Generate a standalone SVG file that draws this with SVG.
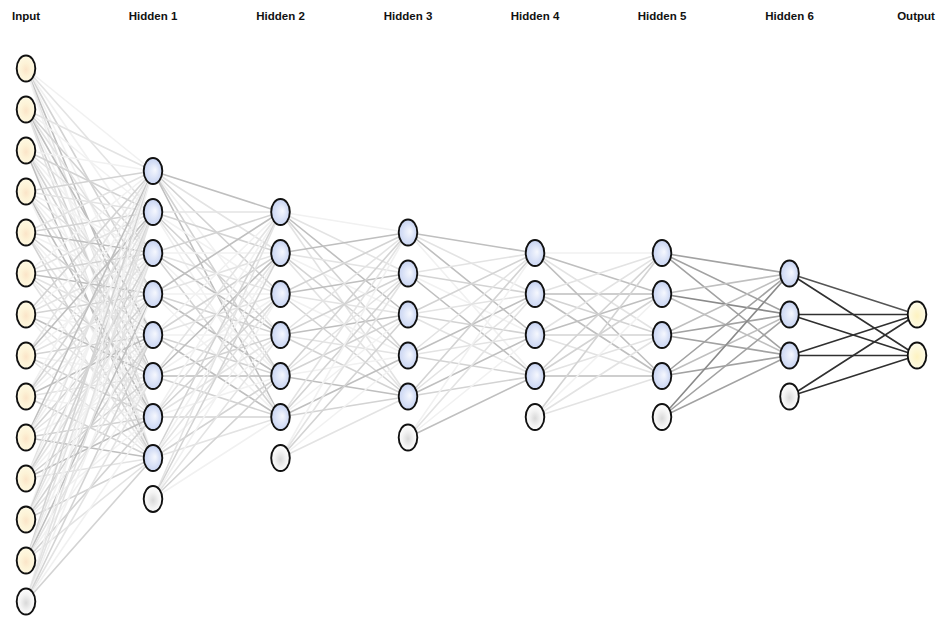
<svg xmlns="http://www.w3.org/2000/svg" width="937" height="619" viewBox="0 0 937 619">
  <style>
    .lbl { font-family: "Liberation Sans", Arial, sans-serif; font-weight: bold; font-size: 11.5px; fill: #111; text-anchor: middle; }
    #edges path { fill: none; stroke-width: 1.6; stroke-linecap: round; }
    .e0 { stroke: #f1f1f1; }
    .e1 { stroke: #e3e3e3; }
    .e2 { stroke: #d3d3d3; }
    .e3 { stroke: #bfbfbf; }
    .e4 { stroke: #a2a2a2; }
    .e5 { stroke: #8a8a8a; }
    .e6 { stroke: #555555; }
    .e7 { stroke: #303030; }
    .node ellipse { stroke: #111; stroke-width: 1.9; }
    .in ellipse { fill: url(#gIn); }
    .hid ellipse { fill: url(#gHid); }
    .bias ellipse { fill: url(#gBias); }
    .out ellipse { fill: url(#gOut); }
  </style>
  <defs>
    <radialGradient id="gIn" cx="0.5" cy="0.55" r="0.55">
      <stop offset="0" stop-color="#fbe4c8"/>
      <stop offset="0.45" stop-color="#fdf2d6"/>
      <stop offset="1" stop-color="#fefae4"/>
    </radialGradient>
    <radialGradient id="gHid" cx="0.45" cy="0.55" r="0.6" fx="0.62" fy="0.45">
      <stop offset="0" stop-color="#f6f8fe"/>
      <stop offset="0.55" stop-color="#d6dff6"/>
      <stop offset="1" stop-color="#c2cff0"/>
    </radialGradient>
    <radialGradient id="gBias" cx="0.5" cy="0.55" r="0.55">
      <stop offset="0" stop-color="#d9d9d9"/>
      <stop offset="0.55" stop-color="#f3f3f3"/>
      <stop offset="1" stop-color="#ffffff"/>
    </radialGradient>
    <radialGradient id="gOut" cx="0.5" cy="0.55" r="0.55">
      <stop offset="0" stop-color="#fdf2c0"/>
      <stop offset="0.6" stop-color="#fdf8da"/>
      <stop offset="1" stop-color="#fefcec"/>
    </radialGradient>
  </defs>

  <rect width="937" height="619" fill="#ffffff"/>

  <!-- layer titles -->
  <g id="titles">
    <text class="lbl" x="26" y="20">Input</text>
    <text class="lbl" x="153" y="20">Hidden 1</text>
    <text class="lbl" x="280.5" y="20">Hidden 2</text>
    <text class="lbl" x="408" y="20">Hidden 3</text>
    <text class="lbl" x="535" y="20">Hidden 4</text>
    <text class="lbl" x="662" y="20">Hidden 5</text>
    <text class="lbl" x="789.5" y="20">Hidden 6</text>
    <text class="lbl" x="916" y="20">Output</text>
  </g>

  <!-- weighted connections, shade = weight magnitude -->
  <g id="edges">
    <!-- Input -> Hidden 1 -->
    <path class="e0" d="M26 68.5 153 171"/><path class="e1" d="M26 68.5 153 212"/><path class="e0" d="M26 68.5 153 253"/><path class="e2" d="M26 68.5 153 294"/><path class="e0" d="M26 68.5 153 335"/><path class="e3" d="M26 68.5 153 376"/><path class="e1" d="M26 68.5 153 417"/><path class="e0" d="M26 68.5 153 458"/>
    <path class="e1" d="M26 109.5 153 171"/><path class="e0" d="M26 109.5 153 212"/><path class="e2" d="M26 109.5 153 253"/><path class="e1" d="M26 109.5 153 294"/><path class="e3" d="M26 109.5 153 335"/><path class="e0" d="M26 109.5 153 376"/><path class="e2" d="M26 109.5 153 417"/><path class="e1" d="M26 109.5 153 458"/>
    <path class="e0" d="M26 150.5 153 171"/><path class="e2" d="M26 150.5 153 212"/><path class="e1" d="M26 150.5 153 253"/><path class="e0" d="M26 150.5 153 294"/><path class="e1" d="M26 150.5 153 335"/><path class="e2" d="M26 150.5 153 376"/><path class="e0" d="M26 150.5 153 417"/><path class="e3" d="M26 150.5 153 458"/>
    <path class="e2" d="M26 191.5 153 171"/><path class="e1" d="M26 191.5 153 212"/><path class="e0" d="M26 191.5 153 253"/><path class="e1" d="M26 191.5 153 294"/><path class="e0" d="M26 191.5 153 335"/><path class="e1" d="M26 191.5 153 376"/><path class="e3" d="M26 191.5 153 417"/><path class="e0" d="M26 191.5 153 458"/>
    <path class="e1" d="M26 232.5 153 171"/><path class="e2" d="M26 232.5 153 212"/><path class="e3" d="M26 232.5 153 253"/><path class="e0" d="M26 232.5 153 294"/><path class="e2" d="M26 232.5 153 335"/><path class="e0" d="M26 232.5 153 376"/><path class="e1" d="M26 232.5 153 417"/><path class="e2" d="M26 232.5 153 458"/>
    <path class="e0" d="M26 273.5 153 171"/><path class="e1" d="M26 273.5 153 212"/><path class="e2" d="M26 273.5 153 253"/><path class="e3" d="M26 273.5 153 294"/><path class="e1" d="M26 273.5 153 335"/><path class="e2" d="M26 273.5 153 376"/><path class="e0" d="M26 273.5 153 417"/><path class="e1" d="M26 273.5 153 458"/>
    <path class="e2" d="M26 314.5 153 171"/><path class="e0" d="M26 314.5 153 212"/><path class="e1" d="M26 314.5 153 253"/><path class="e2" d="M26 314.5 153 294"/><path class="e0" d="M26 314.5 153 335"/><path class="e3" d="M26 314.5 153 376"/><path class="e1" d="M26 314.5 153 417"/><path class="e0" d="M26 314.5 153 458"/>
    <path class="e1" d="M26 355.5 153 171"/><path class="e3" d="M26 355.5 153 212"/><path class="e0" d="M26 355.5 153 253"/><path class="e1" d="M26 355.5 153 294"/><path class="e2" d="M26 355.5 153 335"/><path class="e0" d="M26 355.5 153 376"/><path class="e2" d="M26 355.5 153 417"/><path class="e1" d="M26 355.5 153 458"/>
    <path class="e0" d="M26 396.5 153 171"/><path class="e2" d="M26 396.5 153 212"/><path class="e1" d="M26 396.5 153 253"/><path class="e0" d="M26 396.5 153 294"/><path class="e3" d="M26 396.5 153 335"/><path class="e1" d="M26 396.5 153 376"/><path class="e0" d="M26 396.5 153 417"/><path class="e2" d="M26 396.5 153 458"/>
    <path class="e3" d="M26 437.5 153 171"/><path class="e1" d="M26 437.5 153 212"/><path class="e0" d="M26 437.5 153 253"/><path class="e2" d="M26 437.5 153 294"/><path class="e1" d="M26 437.5 153 335"/><path class="e0" d="M26 437.5 153 376"/><path class="e2" d="M26 437.5 153 417"/><path class="e3" d="M26 437.5 153 458"/>
    <path class="e1" d="M26 478.5 153 171"/><path class="e0" d="M26 478.5 153 212"/><path class="e2" d="M26 478.5 153 253"/><path class="e1" d="M26 478.5 153 294"/><path class="e0" d="M26 478.5 153 335"/><path class="e2" d="M26 478.5 153 376"/><path class="e3" d="M26 478.5 153 417"/><path class="e1" d="M26 478.5 153 458"/>
    <path class="e0" d="M26 519.5 153 171"/><path class="e2" d="M26 519.5 153 212"/><path class="e1" d="M26 519.5 153 253"/><path class="e0" d="M26 519.5 153 294"/><path class="e2" d="M26 519.5 153 335"/><path class="e1" d="M26 519.5 153 376"/><path class="e0" d="M26 519.5 153 417"/><path class="e2" d="M26 519.5 153 458"/>
    <path class="e2" d="M26 560.5 153 171"/><path class="e1" d="M26 560.5 153 212"/><path class="e0" d="M26 560.5 153 253"/><path class="e3" d="M26 560.5 153 294"/><path class="e1" d="M26 560.5 153 335"/><path class="e0" d="M26 560.5 153 376"/><path class="e2" d="M26 560.5 153 417"/><path class="e1" d="M26 560.5 153 458"/>
    <path class="e0" d="M26 601.5 153 171"/><path class="e1" d="M26 601.5 153 212"/><path class="e1" d="M26 601.5 153 253"/><path class="e0" d="M26 601.5 153 294"/><path class="e2" d="M26 601.5 153 335"/><path class="e1" d="M26 601.5 153 376"/><path class="e0" d="M26 601.5 153 417"/><path class="e2" d="M26 601.5 153 458"/>

    <!-- Hidden 1 -> Hidden 2 -->
    <path class="e3" d="M153 171 280.5 212"/><path class="e1" d="M153 171 280.5 253"/><path class="e2" d="M153 171 280.5 294"/><path class="e0" d="M153 171 280.5 335"/><path class="e2" d="M153 171 280.5 376"/><path class="e3" d="M153 171 280.5 417"/>
    <path class="e1" d="M153 212 280.5 212"/><path class="e2" d="M153 212 280.5 253"/><path class="e0" d="M153 212 280.5 294"/><path class="e2" d="M153 212 280.5 335"/><path class="e1" d="M153 212 280.5 376"/><path class="e0" d="M153 212 280.5 417"/>
    <path class="e2" d="M153 253 280.5 212"/><path class="e0" d="M153 253 280.5 253"/><path class="e1" d="M153 253 280.5 294"/><path class="e3" d="M153 253 280.5 335"/><path class="e0" d="M153 253 280.5 376"/><path class="e2" d="M153 253 280.5 417"/>
    <path class="e3" d="M153 294 280.5 212"/><path class="e1" d="M153 294 280.5 253"/><path class="e0" d="M153 294 280.5 294"/><path class="e2" d="M153 294 280.5 335"/><path class="e3" d="M153 294 280.5 376"/><path class="e0" d="M153 294 280.5 417"/>
    <path class="e0" d="M153 335 280.5 212"/><path class="e2" d="M153 335 280.5 253"/><path class="e1" d="M153 335 280.5 294"/><path class="e0" d="M153 335 280.5 335"/><path class="e2" d="M153 335 280.5 376"/><path class="e3" d="M153 335 280.5 417"/>
    <path class="e1" d="M153 376 280.5 212"/><path class="e3" d="M153 376 280.5 253"/><path class="e0" d="M153 376 280.5 294"/><path class="e2" d="M153 376 280.5 335"/><path class="e3" d="M153 376 280.5 376"/><path class="e2" d="M153 376 280.5 417"/>
    <path class="e0" d="M153 417 280.5 212"/><path class="e1" d="M153 417 280.5 253"/><path class="e2" d="M153 417 280.5 294"/><path class="e1" d="M153 417 280.5 335"/><path class="e0" d="M153 417 280.5 376"/><path class="e2" d="M153 417 280.5 417"/>
    <path class="e2" d="M153 458 280.5 212"/><path class="e0" d="M153 458 280.5 253"/><path class="e1" d="M153 458 280.5 294"/><path class="e0" d="M153 458 280.5 335"/><path class="e2" d="M153 458 280.5 376"/><path class="e1" d="M153 458 280.5 417"/>
    <path class="e1" d="M153 499 280.5 212"/><path class="e2" d="M153 499 280.5 253"/><path class="e0" d="M153 499 280.5 294"/><path class="e1" d="M153 499 280.5 335"/><path class="e2" d="M153 499 280.5 376"/><path class="e0" d="M153 499 280.5 417"/>

    <!-- Hidden 2 -> Hidden 3 -->
    <path class="e0" d="M280.5 212 408 232.5"/><path class="e1" d="M280.5 212 408 273.5"/><path class="e3" d="M280.5 212 408 314.5"/><path class="e2" d="M280.5 212 408 355.5"/><path class="e1" d="M280.5 212 408 396.5"/>
    <path class="e3" d="M280.5 253 408 232.5"/><path class="e1" d="M280.5 253 408 273.5"/><path class="e0" d="M280.5 253 408 314.5"/><path class="e2" d="M280.5 253 408 355.5"/><path class="e1" d="M280.5 253 408 396.5"/>
    <path class="e2" d="M280.5 294 408 232.5"/><path class="e3" d="M280.5 294 408 273.5"/><path class="e1" d="M280.5 294 408 314.5"/><path class="e0" d="M280.5 294 408 355.5"/><path class="e2" d="M280.5 294 408 396.5"/>
    <path class="e1" d="M280.5 335 408 232.5"/><path class="e2" d="M280.5 335 408 273.5"/><path class="e3" d="M280.5 335 408 314.5"/><path class="e1" d="M280.5 335 408 355.5"/><path class="e2" d="M280.5 335 408 396.5"/>
    <path class="e2" d="M280.5 376 408 232.5"/><path class="e1" d="M280.5 376 408 273.5"/><path class="e2" d="M280.5 376 408 314.5"/><path class="e0" d="M280.5 376 408 355.5"/><path class="e3" d="M280.5 376 408 396.5"/>
    <path class="e1" d="M280.5 417 408 232.5"/><path class="e2" d="M280.5 417 408 273.5"/><path class="e0" d="M280.5 417 408 314.5"/><path class="e3" d="M280.5 417 408 355.5"/><path class="e2" d="M280.5 417 408 396.5"/>
    <path class="e0" d="M280.5 458 408 232.5"/><path class="e1" d="M280.5 458 408 273.5"/><path class="e2" d="M280.5 458 408 314.5"/><path class="e0" d="M280.5 458 408 355.5"/><path class="e1" d="M280.5 458 408 396.5"/>

    <!-- Hidden 3 -> Hidden 4 -->
    <path class="e3" d="M408 232.5 535 253"/><path class="e1" d="M408 232.5 535 294"/><path class="e3" d="M408 232.5 535 335"/><path class="e0" d="M408 232.5 535 376"/>
    <path class="e1" d="M408 273.5 535 253"/><path class="e2" d="M408 273.5 535 294"/><path class="e0" d="M408 273.5 535 335"/><path class="e3" d="M408 273.5 535 376"/>
    <path class="e2" d="M408 314.5 535 253"/><path class="e1" d="M408 314.5 535 294"/><path class="e2" d="M408 314.5 535 335"/><path class="e1" d="M408 314.5 535 376"/>
    <path class="e1" d="M408 355.5 535 253"/><path class="e3" d="M408 355.5 535 294"/><path class="e1" d="M408 355.5 535 335"/><path class="e2" d="M408 355.5 535 376"/>
    <path class="e2" d="M408 396.5 535 253"/><path class="e1" d="M408 396.5 535 294"/><path class="e3" d="M408 396.5 535 335"/><path class="e2" d="M408 396.5 535 376"/>
    <path class="e0" d="M408 437.5 535 253"/><path class="e1" d="M408 437.5 535 294"/><path class="e0" d="M408 437.5 535 335"/><path class="e3" d="M408 437.5 535 376"/>

    <!-- Hidden 4 -> Hidden 5 -->
    <path class="e0" d="M535 253 662 253"/><path class="e3" d="M535 253 662 294"/><path class="e1" d="M535 253 662 335"/><path class="e3" d="M535 253 662 376"/>
    <path class="e1" d="M535 294 662 253"/><path class="e3" d="M535 294 662 294"/><path class="e2" d="M535 294 662 335"/><path class="e3" d="M535 294 662 376"/>
    <path class="e1" d="M535 335 662 253"/><path class="e3" d="M535 335 662 294"/><path class="e2" d="M535 335 662 335"/><path class="e1" d="M535 335 662 376"/>
    <path class="e2" d="M535 376 662 253"/><path class="e2" d="M535 376 662 294"/><path class="e1" d="M535 376 662 335"/><path class="e3" d="M535 376 662 376"/>
    <path class="e2" d="M535 417 662 253"/><path class="e0" d="M535 417 662 294"/><path class="e1" d="M535 417 662 335"/><path class="e1" d="M535 417 662 376"/>

    <!-- Hidden 5 -> Hidden 6 -->
    <path class="e4" d="M662 253 789.5 273.5"/><path class="e4" d="M662 253 789.5 314.5"/><path class="e4" d="M662 253 789.5 355.5"/>
    <path class="e3" d="M662 294 789.5 273.5"/><path class="e5" d="M662 294 789.5 314.5"/><path class="e3" d="M662 294 789.5 355.5"/>
    <path class="e3" d="M662 335 789.5 273.5"/><path class="e4" d="M662 335 789.5 314.5"/><path class="e4" d="M662 335 789.5 355.5"/>
    <path class="e4" d="M662 376 789.5 273.5"/><path class="e3" d="M662 376 789.5 314.5"/><path class="e4" d="M662 376 789.5 355.5"/>
    <path class="e5" d="M662 417 789.5 273.5"/><path class="e4" d="M662 417 789.5 314.5"/><path class="e4" d="M662 417 789.5 355.5"/>

    <!-- Hidden 6 -> Output -->
    <path class="e6" d="M789.5 273.5 917 314.5"/><path class="e7" d="M789.5 273.5 917 355.5"/>
    <path class="e7" d="M789.5 314.5 917 314.5"/><path class="e7" d="M789.5 314.5 917 355.5"/>
    <path class="e7" d="M789.5 355.5 917 314.5"/><path class="e7" d="M789.5 355.5 917 355.5"/>
    <path class="e7" d="M789.5 396.5 917 314.5"/><path class="e7" d="M789.5 396.5 917 355.5"/>
  </g>

  <!-- Input layer -->
  <g id="input">
    <g id="in1" class="node in"><ellipse cx="26" cy="68.5" rx="9.3" ry="13"/></g>
    <g id="in2" class="node in"><ellipse cx="26" cy="109.5" rx="9.3" ry="13"/></g>
    <g id="in3" class="node in"><ellipse cx="26" cy="150.5" rx="9.3" ry="13"/></g>
    <g id="in4" class="node in"><ellipse cx="26" cy="191.5" rx="9.3" ry="13"/></g>
    <g id="in5" class="node in"><ellipse cx="26" cy="232.5" rx="9.3" ry="13"/></g>
    <g id="in6" class="node in"><ellipse cx="26" cy="273.5" rx="9.3" ry="13"/></g>
    <g id="in7" class="node in"><ellipse cx="26" cy="314.5" rx="9.3" ry="13"/></g>
    <g id="in8" class="node in"><ellipse cx="26" cy="355.5" rx="9.3" ry="13"/></g>
    <g id="in9" class="node in"><ellipse cx="26" cy="396.5" rx="9.3" ry="13"/></g>
    <g id="in10" class="node in"><ellipse cx="26" cy="437.5" rx="9.3" ry="13"/></g>
    <g id="in11" class="node in"><ellipse cx="26" cy="478.5" rx="9.3" ry="13"/></g>
    <g id="in12" class="node in"><ellipse cx="26" cy="519.5" rx="9.3" ry="13"/></g>
    <g id="in13" class="node in"><ellipse cx="26" cy="560.5" rx="9.3" ry="13"/></g>
    <g id="in_bias" class="node bias"><ellipse cx="26" cy="601.5" rx="9.3" ry="13"/></g>
  </g>

  <!-- Hidden 1 -->
  <g id="hidden1">
    <g id="h1_1" class="node hid"><ellipse cx="153" cy="171" rx="9.3" ry="13"/></g>
    <g id="h1_2" class="node hid"><ellipse cx="153" cy="212" rx="9.3" ry="13"/></g>
    <g id="h1_3" class="node hid"><ellipse cx="153" cy="253" rx="9.3" ry="13"/></g>
    <g id="h1_4" class="node hid"><ellipse cx="153" cy="294" rx="9.3" ry="13"/></g>
    <g id="h1_5" class="node hid"><ellipse cx="153" cy="335" rx="9.3" ry="13"/></g>
    <g id="h1_6" class="node hid"><ellipse cx="153" cy="376" rx="9.3" ry="13"/></g>
    <g id="h1_7" class="node hid"><ellipse cx="153" cy="417" rx="9.3" ry="13"/></g>
    <g id="h1_8" class="node hid"><ellipse cx="153" cy="458" rx="9.3" ry="13"/></g>
    <g id="h1_bias" class="node bias"><ellipse cx="153" cy="499" rx="9.3" ry="13"/></g>
  </g>

  <!-- Hidden 2 -->
  <g id="hidden2">
    <g id="h2_1" class="node hid"><ellipse cx="280.5" cy="212" rx="9.3" ry="13"/></g>
    <g id="h2_2" class="node hid"><ellipse cx="280.5" cy="253" rx="9.3" ry="13"/></g>
    <g id="h2_3" class="node hid"><ellipse cx="280.5" cy="294" rx="9.3" ry="13"/></g>
    <g id="h2_4" class="node hid"><ellipse cx="280.5" cy="335" rx="9.3" ry="13"/></g>
    <g id="h2_5" class="node hid"><ellipse cx="280.5" cy="376" rx="9.3" ry="13"/></g>
    <g id="h2_6" class="node hid"><ellipse cx="280.5" cy="417" rx="9.3" ry="13"/></g>
    <g id="h2_bias" class="node bias"><ellipse cx="280.5" cy="458" rx="9.3" ry="13"/></g>
  </g>

  <!-- Hidden 3 -->
  <g id="hidden3">
    <g id="h3_1" class="node hid"><ellipse cx="408" cy="232.5" rx="9.3" ry="13"/></g>
    <g id="h3_2" class="node hid"><ellipse cx="408" cy="273.5" rx="9.3" ry="13"/></g>
    <g id="h3_3" class="node hid"><ellipse cx="408" cy="314.5" rx="9.3" ry="13"/></g>
    <g id="h3_4" class="node hid"><ellipse cx="408" cy="355.5" rx="9.3" ry="13"/></g>
    <g id="h3_5" class="node hid"><ellipse cx="408" cy="396.5" rx="9.3" ry="13"/></g>
    <g id="h3_bias" class="node bias"><ellipse cx="408" cy="437.5" rx="9.3" ry="13"/></g>
  </g>

  <!-- Hidden 4 -->
  <g id="hidden4">
    <g id="h4_1" class="node hid"><ellipse cx="535" cy="253" rx="9.3" ry="13"/></g>
    <g id="h4_2" class="node hid"><ellipse cx="535" cy="294" rx="9.3" ry="13"/></g>
    <g id="h4_3" class="node hid"><ellipse cx="535" cy="335" rx="9.3" ry="13"/></g>
    <g id="h4_4" class="node hid"><ellipse cx="535" cy="376" rx="9.3" ry="13"/></g>
    <g id="h4_bias" class="node bias"><ellipse cx="535" cy="417" rx="9.3" ry="13"/></g>
  </g>

  <!-- Hidden 5 -->
  <g id="hidden5">
    <g id="h5_1" class="node hid"><ellipse cx="662" cy="253" rx="9.3" ry="13"/></g>
    <g id="h5_2" class="node hid"><ellipse cx="662" cy="294" rx="9.3" ry="13"/></g>
    <g id="h5_3" class="node hid"><ellipse cx="662" cy="335" rx="9.3" ry="13"/></g>
    <g id="h5_4" class="node hid"><ellipse cx="662" cy="376" rx="9.3" ry="13"/></g>
    <g id="h5_bias" class="node bias"><ellipse cx="662" cy="417" rx="9.3" ry="13"/></g>
  </g>

  <!-- Hidden 6 -->
  <g id="hidden6">
    <g id="h6_1" class="node hid"><ellipse cx="789.5" cy="273.5" rx="9.3" ry="13"/></g>
    <g id="h6_2" class="node hid"><ellipse cx="789.5" cy="314.5" rx="9.3" ry="13"/></g>
    <g id="h6_3" class="node hid"><ellipse cx="789.5" cy="355.5" rx="9.3" ry="13"/></g>
    <g id="h6_bias" class="node bias"><ellipse cx="789.5" cy="396.5" rx="9.3" ry="13"/></g>
  </g>

  <!-- Output layer -->
  <g id="output">
    <g id="out1" class="node out"><ellipse cx="917" cy="314.5" rx="9.3" ry="13"/></g>
    <g id="out2" class="node out"><ellipse cx="917" cy="355.5" rx="9.3" ry="13"/></g>
  </g>
</svg>
